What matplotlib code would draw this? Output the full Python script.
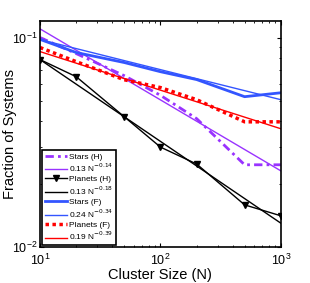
import numpy as np
import matplotlib
matplotlib.use("Agg")
import matplotlib.pyplot as plt

plt.rcParams['font.family'] = ['Liberation Sans', 'DejaVu Sans']

# cluster sizes
N = [10, 20, 50, 100, 200, 500, 1000]

# measured fractions
stars_h = [0.100, 0.0838, 0.0658, 0.053, 0.041, 0.0247, 0.0247]
planets_h = [0.0785, 0.065, 0.0419, 0.030, 0.0249, 0.0159, 0.0141]
stars_f = [0.098, 0.0848, 0.076, 0.0687, 0.063, 0.0522, 0.0545]
planets_f = [0.0896, 0.0767, 0.0629, 0.0577, 0.0505, 0.0396, 0.0396]

# power-law fits, read at the two ends
N_fit = [10, 1000]
fit_stars_h = [0.110, 0.0231]
fit_planets_h = [0.0785, 0.0130]
fit_stars_f = [0.0978, 0.0505]
fit_planets_f = [0.0857, 0.0367]

labels = ["Stars (H)", r"0.13 N$^{-0.14}$", "Planets (H)", r"0.13 N$^{-0.18}$",
          "Stars (F)", r"0.24 N$^{-0.34}$", "Planets (F)", r"0.19 N$^{-0.39}$"]

purple = "#9933ff"
blue = "#3355ff"
red = "#ff0000"

fig = plt.figure(figsize=(3.1, 2.83), dpi=100)
ax = fig.add_axes([0.129, 0.127, 0.777, 0.799])

ax.loglog(N, stars_h, color=purple, lw=2, ls=(0, (3, 1.5, 1, 1.5)), label=labels[0])
ax.loglog(N_fit, fit_stars_h, color=purple, lw=1, label=labels[1])
ax.loglog(N, planets_h, color='k', lw=1, marker='v', ms=4, label=labels[2])
ax.loglog(N_fit, fit_planets_h, color='k', lw=1, label=labels[3])
ax.loglog(N, stars_f, color=blue, lw=2, label=labels[4])
ax.loglog(N_fit, fit_stars_f, color=blue, lw=1, label=labels[5])
ax.loglog(N, planets_f, color=red, lw=2.5, ls=(0, (1, 1)), label=labels[6])
ax.loglog(N_fit, fit_planets_f, color=red, lw=1, label=labels[7])

ax.set_xlim(10, 1000)
ax.set_ylim(0.01, 0.12)
ax.set_xlabel("Cluster Size (N)", fontsize=10.5, labelpad=0)
ax.set_ylabel("Fraction of Systems", fontsize=10.5)
ax.yaxis.set_label_coords(-0.095, 0.5)
ax.tick_params(which='both', direction='in', top=True, right=True, labelsize=9)
ax.tick_params(axis='y', pad=2)
ax.tick_params(axis='x', pad=4)
ax.tick_params(which='major', length=3)
ax.tick_params(which='minor', length=1.5)
for s in ax.spines.values():
    s.set_linewidth(1.2)

leg = ax.legend(loc='lower left', fontsize=6, handlelength=2.7, handletextpad=0.2,
                labelspacing=0.15, borderpad=0.3, borderaxespad=0.25,
                fancybox=False, framealpha=1)
leg.get_frame().set_edgecolor('k')
leg.get_frame().set_linewidth(1.2)

fig.savefig("out.png", dpi=100)
